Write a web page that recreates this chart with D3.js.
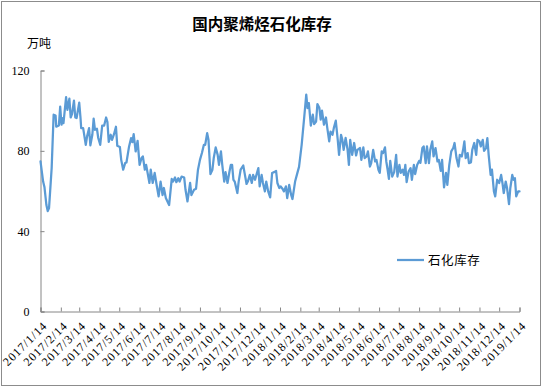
<!DOCTYPE html>
<html><head><meta charset="utf-8">
<script src="https://cdn.jsdelivr.net/npm/d3@7"></script>
<style>body{margin:0;background:#fff}svg{display:block}</style>
</head><body>
<svg id="c" width="545" height="392"></svg>
<script>
const title = "国内聚烯烃石化库存";
const unitLabel = "万吨";
const seriesName = "石化库存";
const startDate = "2017-01-14";
const yTicks = [0, 40, 80, 120];
const xTickLabels = ["2017/1/14","2017/2/14","2017/3/14","2017/4/14","2017/5/14","2017/6/14","2017/7/14","2017/8/14","2017/9/14","2017/10/14","2017/11/14","2017/12/14","2018/1/14","2018/2/14","2018/3/14","2018/4/14","2018/5/14","2018/6/14","2018/7/14","2018/8/14","2018/9/14","2018/10/14","2018/11/14","2018/12/14","2019/1/14"];
// days since startDate
const dayOffsets = [0,4,6,9,11,13,17,20,23,24,28,30,32,34,35,39,41,44,46,48,51,53,55,59,61,62,65,69,71,74,76,79,81,83,86,88,91,94,97,100,102,104,107,109,112,115,117,121,123,126,129,131,135,138,140,142,145,148,151,154,156,159,161,166,168,171,174,177,180,183,186,188,191,196,200,202,205,207,210,212,215,219,221,224,228,230,234,237,240,243,
246,249,251,254,256,259,262,264,267,270,272,275,277,280,282,285,288,290,292,294,296,300,302,305,309,311,314,316,319,322,324,327,329,332,334,337,339,342,344,347,350,353,356,359,361,364,366,369,371,374,376,379,382,384,388,391,394,398,402,405,407,409,412,415,417,420,422,425,427,429,432,435,437,440,442,445,447,450,453,455,458,460,462,465,468,470,472,475,478,481,483,
487,489,492,494,497,499,502,504,507,510,512,515,517,520,522,525,527,529,531,533,536,539,542,544,547,549,552,554,556,558,561,564,566,569,571,574,577,579,582,584,587,589,592,594,597,599,602,605,607,610,612,615,618,620,623,626,629,631,634,637,639,642,644,646,648,651,653,656,658,661,664,666,669,671,674,676,679,681,683,686,688,691,693,696,699,702,704,706,709,711,714,716,719,721,723,725,728,730];
const inventory = [74.7,64.7,62,53,50,51.5,71.4,98,97.6,92,92.6,102,93,96.3,93.8,106.8,100.4,106,96.6,98.3,105,96.6,96.3,104,96.3,91.3,91.3,83,87.2,91.3,82.7,88,96,90.5,91,86.4,83,92.6,92.6,96.6,94.3,84.4,88,85.5,88.3,92,82.5,81.9,75.5,70.6,73.9,74.2,82.2,86.3,84.3,88.3,79.7,85,73,76.4,77.2,70.6,73,64,70.6,64,69,63,57.3,64.7,58,61.5,56.5,53,66,64.7,66.7,64.4,66.4,64.7,67.2,66.7,60.6,54.8,64,58,60.6,61.1,70.6,75.5,
78.9,83,83,88.8,85.5,68.4,70.6,76.4,81.7,78,73,79.7,73,64.7,69.4,64,69.7,73,73,65.6,64.7,59,64.7,70.6,72.7,69,63.5,64.7,68,64,68,65.6,68,71.4,62.3,68,64,59.8,64.7,59.8,56.8,69,69.4,70,64,61.5,62.3,61,59.8,62.3,56.5,63,58,56,64.7,68.4,72,83,97,108,101.3,103.8,92.6,98,93.3,94.6,103.3,101.3,95.5,100,93,96.6,91.6,84.7,89.6,88,91.3,95,85.5,78,88,85.5,80.5,86.4,80.5,73,85.5,78,83.9,77.7,80.5,
81.4,75.5,81.7,76.4,77.2,79.7,72.2,73.9,80.5,74.7,75.5,70.6,69,79.7,78.9,81.7,74.7,70.6,66,75,67.2,69.4,78,67.2,73,69,70.6,68,73,64.4,69.7,71.4,65.6,73,68.4,73,75,74,81.4,82.2,73.9,82.2,73.9,80.5,84.7,77.2,81.4,74.7,75.5,70,75.5,61.8,69,63,73,79.7,81.4,83.9,76.4,72.2,78,77.2,80.5,84.7,76.4,78.9,73.9,74.2,80.5,83.9,78,85.5,84.7,82.2,85.5,80,81.4,86.3,78,68,70.6,59.8,57.3,65.6,64,68,64,59,64.7,61.5,53.5,61.5,68,65.6,66.4,57.3,59.8,59.8];

const parseISO = d3.timeParse("%Y-%m-%d");
const parseTick = d3.timeParse("%Y/%m/%d");
const start = parseISO(startDate);
const data = dayOffsets.map((d, i) => ({date: d3.timeDay.offset(start, d), value: inventory[i]}));
const tickDates = xTickLabels.map(parseTick);

const svg = d3.select("#c");
const cjk = "'Noto Sans CJK SC', sans-serif";
const axisColor = "#868686";

svg.append("rect").attr("x", 1.5).attr("y", 1.5).attr("width", 539).attr("height", 384)
  .attr("fill", "#fff").attr("stroke", "#8c8c8c").attr("stroke-width", 1);

const x = d3.scaleTime().domain([tickDates[0], tickDates[tickDates.length - 1]]).range([40.5, 519.5]);
const y = d3.scaleLinear().domain([0, 120]).range([311.5, 70.5]);

// title
svg.append("text").attr("x", 262).attr("y", 30).attr("text-anchor", "middle")
  .attr("font-family", cjk).attr("font-size", 15.5).attr("font-weight", "bold").attr("fill", "#000").text(title);
svg.append("text").attr("x", 39).attr("y", 48).attr("text-anchor", "middle")
  .attr("font-family", cjk).attr("font-size", 12).attr("fill", "#000").text(unitLabel);

// y axis
const yAxis = svg.append("g").attr("transform", "translate(40.5,0)")
  .call(d3.axisLeft(y).tickValues(yTicks).tickSize(-4).tickPadding(11).tickFormat(d3.format("d")));
yAxis.selectAll("path,line").attr("stroke", axisColor);
yAxis.selectAll("text").attr("font-family", "'Liberation Serif', serif").attr("font-size", 12).attr("fill", "#000");

// x axis
const xAxis = svg.append("g").attr("transform", "translate(0,311.5)")
  .call(d3.axisBottom(x).tickValues(tickDates).tickSize(-4).tickFormat(""));
xAxis.select("path").attr("stroke", axisColor);
xAxis.selectAll("line").attr("stroke", axisColor);
xAxis.selectAll(".tick").append("text")
  .attr("transform", "translate(7,15) rotate(-45)")
  .attr("text-anchor", "end")
  .attr("font-family", "'Liberation Serif', serif").attr("font-size", 12)
  .attr("letter-spacing", 0.9).attr("fill", "#000")
  .text((d, i) => xTickLabels[i]);

// line
const line = d3.line().x(d => x(d.date)).y(d => y(d.value));
svg.append("path").datum(data).attr("d", line).attr("fill", "none")
  .attr("stroke", "#5B9BD5").attr("stroke-width", 2.25).attr("stroke-linejoin", "round").attr("stroke-linecap", "round");

// legend
svg.append("line").attr("x1", 397).attr("x2", 424).attr("y1", 260).attr("y2", 260)
  .attr("stroke", "#5B9BD5").attr("stroke-width", 2.25);
svg.append("text").attr("x", 428).attr("y", 264.5).attr("font-family", cjk).attr("font-size", 12.5)
  .attr("letter-spacing", 0.6).attr("fill", "#000").text(seriesName);
</script>
</body></html>
